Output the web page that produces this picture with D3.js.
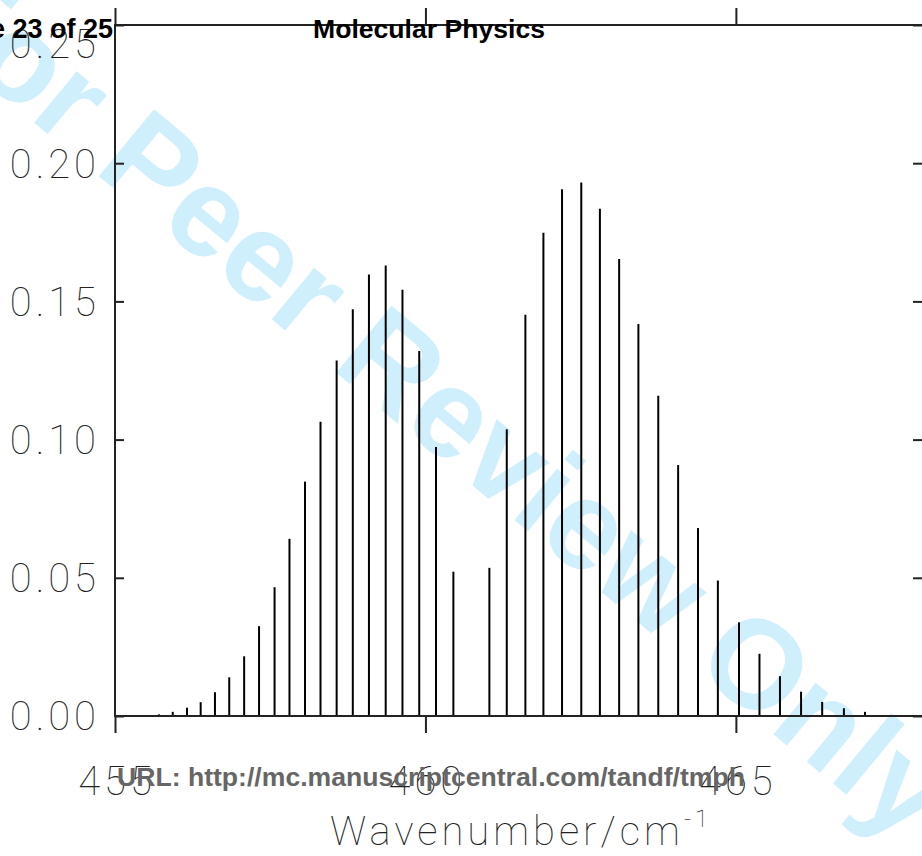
<!DOCTYPE html>
<html>
<head>
<meta charset="utf-8">
<script src="https://cdn.jsdelivr.net/npm/d3@7"></script>
<style>
body { margin: 0; background: #fff; }
svg { display: block; }
.tick-label { font-family: Roboto, "DejaVu Sans", sans-serif; font-weight: 100; fill: #222; }
</style>
</head>
<body>
<svg width="922" height="856"></svg>
<script>
// stick positions (cm-1) and intensities
var lowBranch = [455.71, 455.93, 456.16, 456.38, 456.61, 456.84, 457.08, 457.32, 457.57, 457.81,
                 458.06, 458.31, 458.57, 458.83, 459.09, 459.36, 459.63, 459.90, 460.17, 460.45];
var lowIntensity = [0.0006, 0.0015, 0.003, 0.005, 0.0086, 0.014, 0.0216, 0.0325, 0.0466, 0.0641,
                    0.0848, 0.1065, 0.1286, 0.1472, 0.1597, 0.163, 0.1542, 0.1321, 0.0973, 0.0522];
var highBranch = [461.03, 461.31, 461.61, 461.90, 462.20, 462.51, 462.81, 463.12, 463.43, 463.75,
                  464.07, 464.39, 464.71, 465.05, 465.38, 465.71, 466.05, 466.39, 466.74, 467.08];
var highIntensity = [0.0536, 0.1037, 0.1452, 0.1748, 0.1906, 0.193, 0.1835, 0.1653, 0.1418, 0.1159,
                     0.0908, 0.068, 0.049, 0.0339, 0.0225, 0.0144, 0.0088, 0.0051, 0.0028, 0.0015];

var xTicks = [455, 460, 465];
var yTicks = [0, 0.05, 0.10, 0.15, 0.20, 0.25];

var svg = d3.select("svg"),
    plotLeft = 115, plotRight = 924, plotTop = 25, plotBottom = 716;

var x = d3.scaleLinear().domain([455, 468.03]).range([plotLeft, plotRight]),
    y = d3.scaleLinear().domain([0, 0.25]).range([plotBottom, plotTop]);

var sticks = lowBranch.map(function(w, i) { return {w: w, v: lowIntensity[i]}; })
  .concat(highBranch.map(function(w, i) { return {w: w, v: highIntensity[i]}; }));

// watermark, sits behind the plot
svg.append("text")
  .attr("transform", "translate(408,432) rotate(39.6)")
  .attr("text-anchor", "middle")
  .style("font-family", "'Liberation Sans', Arial, sans-serif")
  .style("font-weight", "bold")
  .style("font-size", "126px")
  .style("fill", "#d0effc")
  .text("For Peer Review Only");

var g = svg.append("g");

// the sticks
g.selectAll(".stick")
  .data(sticks)
  .enter().append("line")
    .attr("class", "stick")
    .attr("x1", function(d) { return x(d.w); })
    .attr("x2", function(d) { return x(d.w); })
    .attr("y1", y(0))
    .attr("y2", function(d) { return y(d.v); })
    .attr("stroke", "#000")
    .attr("stroke-width", 2);

// frame
g.append("rect")
  .attr("x", plotLeft).attr("y", plotTop)
  .attr("width", plotRight - plotLeft).attr("height", plotBottom - plotTop)
  .attr("fill", "none")
  .attr("stroke", "#222")
  .attr("stroke-width", 2);

// x ticks stick out top and bottom
var xb = g.append("g").attr("transform", "translate(0," + plotBottom + ")")
  .call(d3.axisBottom(x).tickValues(xTicks).tickSize(17).tickFormat(""));
var xt = g.append("g").attr("transform", "translate(0," + plotTop + ")")
  .call(d3.axisTop(x).tickValues(xTicks).tickSize(17).tickFormat(""));
// y ticks point inward on both sides
var yl = g.append("g").attr("transform", "translate(" + plotLeft + ",0)")
  .call(d3.axisRight(y).tickValues(yTicks).tickSize(9).tickFormat(""));
var yr = g.append("g").attr("transform", "translate(" + plotRight + ",0)")
  .call(d3.axisLeft(y).tickValues(yTicks).tickSize(11).tickFormat(""));
[xb, xt, yl, yr].forEach(function(a) {
  a.select(".domain").remove();
  a.selectAll(".tick line").attr("stroke", "#222").attr("stroke-width", 2);
});

// tick labels (the top one is pushed down inside the page)
g.selectAll(".ylab")
  .data(yTicks)
  .enter().append("text")
    .attr("class", "tick-label")
    .attr("x", 100)
    .attr("y", function(d) { return d === 0.25 ? y(d) + 19 : y(d); })
    .attr("dy", "0.36em")
    .attr("text-anchor", "end")
    .style("font-size", "40px")
    .style("letter-spacing", "4px")
    .text(function(d) { return d.toFixed(2); });

g.selectAll(".xlab")
  .data(xTicks)
  .enter().append("text")
    .attr("class", "tick-label")
    .attr("x", function(d) { return x(d) + 2; })
    .attr("y", 795)
    .attr("text-anchor", "middle")
    .style("font-size", "40px")
    .style("letter-spacing", "4px")
    .text(function(d) { return d; });

var title = g.append("text")
  .attr("class", "tick-label")
  .attr("x", 330)
  .attr("y", 845)
  .style("font-size", "40px")
  .style("letter-spacing", "4px")
  .text("Wavenumber/cm");
title.append("tspan")
  .attr("dy", -18)
  .style("font-size", "24px")
  .text("-1");

// page furniture from the manuscript pdf
svg.append("text")
  .attr("x", 113).attr("y", 38)
  .attr("text-anchor", "end")
  .style("font-family", "'Liberation Sans', Arial, sans-serif")
  .style("font-weight", "bold").style("font-size", "27px")
  .text("Page 23 of 25");
svg.append("text")
  .attr("x", 313).attr("y", 38)
  .attr("textLength", 232)
  .attr("lengthAdjust", "spacingAndGlyphs")
  .style("font-family", "'Liberation Sans', Arial, sans-serif")
  .style("font-weight", "bold").style("font-size", "25px")
  .text("Molecular Physics");
svg.append("text")
  .attr("x", 117).attr("y", 786)
  .attr("textLength", 628)
  .attr("lengthAdjust", "spacingAndGlyphs")
  .style("font-family", "'Liberation Sans', Arial, sans-serif")
  .style("font-weight", "bold").style("font-size", "25px")
  .style("fill", "#666")
  .text("URL: http://mc.manuscriptcentral.com/tandf/tmph");
</script>
</body>
</html>
